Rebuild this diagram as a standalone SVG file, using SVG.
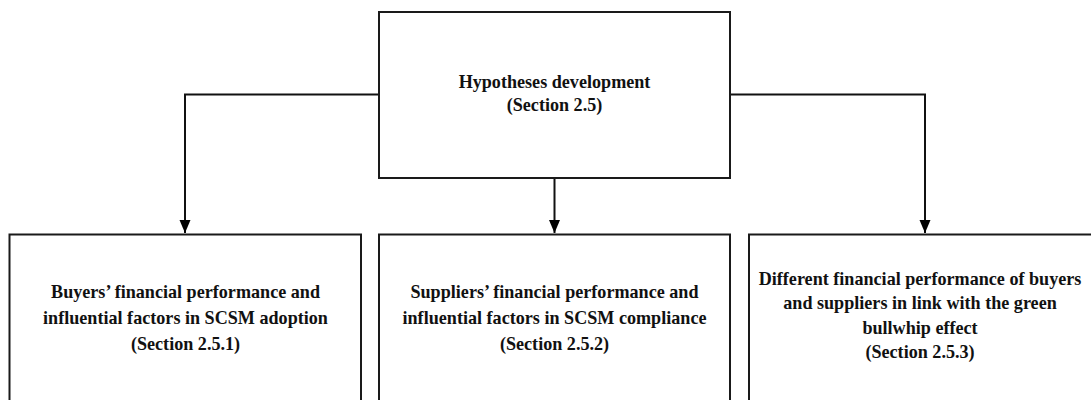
<svg xmlns="http://www.w3.org/2000/svg" width="1091" height="400" viewBox="0 0 1091 400">
  <style>
    .box { fill: #ffffff; stroke: #1a1a1a; stroke-width: 2; }
    .conn { fill: none; stroke: #111111; stroke-width: 2; }
    .lbl { font-family: "Liberation Serif", "Times New Roman", serif; font-weight: bold; font-size: 19.5px; fill: #111111; text-anchor: middle; }
  </style>
  <defs>
    <marker id="arrow" markerUnits="userSpaceOnUse" markerWidth="12" markerHeight="14" viewBox="0 0 12 14" refX="6" refY="13" orient="0">
      <polygon points="0.5,0 11.5,0 6,13" fill="#000000"/>
    </marker>
  </defs>
  <rect width="1091" height="400" fill="#ffffff"/>

  <g id="connectors">
    <polyline class="conn" points="379,94.5 185,94.5 185,233" marker-end="url(#arrow)"/>
    <polyline class="conn" points="554.5,178 554.5,233" marker-end="url(#arrow)"/>
    <polyline class="conn" points="730,94.5 925,94.5 925,233" marker-end="url(#arrow)"/>
  </g>

  <g id="node-hypotheses">
    <rect class="box" x="379" y="12" width="351" height="166"/>
    <g transform="translate(554.5,0) scale(0.93,1)">
      <text class="lbl" x="0" y="88.5">Hypotheses development</text>
      <text class="lbl" x="0" y="111">(Section 2.5)</text>
    </g>
  </g>

  <g id="node-buyers">
    <rect class="box" x="9.5" y="234.5" width="351.5" height="200"/>
    <g transform="translate(185.5,0) scale(0.93,1)">
      <text class="lbl" x="0" y="298.5">Buyers’ financial performance and</text>
      <text class="lbl" x="0" y="324.5">influential factors in SCSM adoption</text>
      <text class="lbl" x="0" y="350.5">(Section 2.5.1)</text>
    </g>
  </g>

  <g id="node-suppliers">
    <rect class="box" x="379" y="234.5" width="351" height="200"/>
    <g transform="translate(554.5,0) scale(0.93,1)">
      <text class="lbl" x="0" y="298.5">Suppliers’ financial performance and</text>
      <text class="lbl" x="0" y="324.5">influential factors in SCSM compliance</text>
      <text class="lbl" x="0" y="350.5">(Section 2.5.2)</text>
    </g>
  </g>

  <g id="node-different">
    <rect class="box" x="749" y="234.5" width="351" height="200"/>
    <g transform="translate(920,0) scale(0.93,1)">
      <text class="lbl" x="0" y="285">Different financial performance of buyers</text>
      <text class="lbl" x="0" y="309.5">and suppliers in link with the green</text>
      <text class="lbl" x="0" y="334">bullwhip effect</text>
      <text class="lbl" x="0" y="358.5">(Section 2.5.3)</text>
    </g>
  </g>
</svg>
